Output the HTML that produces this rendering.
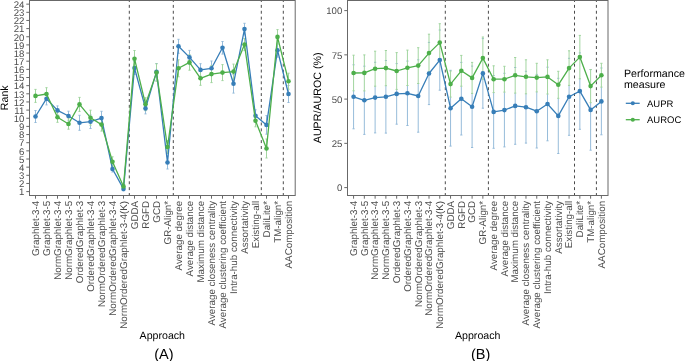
<!DOCTYPE html>
<html><head><meta charset="utf-8"><title>Figure</title>
<style>
html,body{margin:0;padding:0;background:#fff;}
body{width:685px;height:361px;overflow:hidden;font-family:"Liberation Sans", sans-serif;}
#fig{width:685px;height:361px;will-change:transform;}
svg{display:block;}
</style></head><body>
<div id="fig">
<svg width="685" height="361" viewBox="0 0 685 361" text-rendering="geometricPrecision" font-family='"Liberation Sans", sans-serif'>
<line x1="129.3" y1="196" x2="129.3" y2="0" stroke="#4A4A4A" stroke-width="1" stroke-dasharray="2.94 2.94"/>
<line x1="173.3" y1="196" x2="173.3" y2="0" stroke="#4A4A4A" stroke-width="1" stroke-dasharray="2.94 2.94"/>
<line x1="261.3" y1="196" x2="261.3" y2="0" stroke="#4A4A4A" stroke-width="1" stroke-dasharray="2.94 2.94"/>
<line x1="283.3" y1="196" x2="283.3" y2="0" stroke="#4A4A4A" stroke-width="1" stroke-dasharray="2.94 2.94"/>
<path d="M35.5 110.5V122.5M34.4 110.5H36.6M34.4 122.5H36.6M46.5 100.3V104.9M45.4 92.5H47.6M45.4 104.9H47.6M57.5 105.9V112.3M56.4 105.9H58.6M56.4 114.9H58.6M68.5 111.2V118.8M67.4 111.2H69.6M67.4 120.8H69.6M79.5 115.3V130.3M78.4 115.3H80.6M78.4 130.3H80.6M90.5 125.2V128.5M89.4 114.9H91.6M89.4 128.5H91.6M101.5 111.3V118.1M100.4 111.3H102.6M100.4 124.9H102.6M112.5 166.8V172M111.4 166H113.6M111.4 172H113.6M123.5 188.4V190.9M122.4 186.9H124.6M122.4 190.9H124.6M134.5 66.9V74.5M133.4 61.5H135.6M133.4 74.5H135.6M145.5 110.7V113.9M144.4 102.9H146.6M144.4 113.9H146.6M156.5 63.5V63.8M155.4 63.5H157.6M155.4 80.3H157.6M167.5 156V169M166.4 156H168.6M166.4 169H168.6M178.5 39.3V53.3M177.4 39.3H179.6M177.4 53.3H179.6M189.5 50.4V54.6M188.4 50.4H190.6M188.4 64.4H190.6M200.5 63.7V71.3M199.4 63.7H201.6M199.4 76.1H201.6M211.5 61V65.6M210.4 61H212.6M210.4 75.6H212.6M222.5 41.5V54.1M221.4 41.5H223.6M221.4 54.1H223.6M233.5 79.1V93.1M232.4 74.3H234.6M232.4 93.1H234.6M244.5 23.3V34.9M243.4 23.3H245.6M243.4 34.9H245.6M255.5 109.8V114.8M254.4 109.8H256.6M254.4 121.8H256.6M266.5 115.6V134.2M265.4 115.6H267.6M265.4 134.2H267.6M277.5 44.2V57.2M276.4 43.2H278.6M276.4 57.2H278.6M288.5 89.2V102.5M287.4 85.5H289.6M287.4 102.5H289.6" stroke="#91B8D8" stroke-width="0.95" fill="none"/>
<path d="M35.5 89.4V102.4M34.4 89.4H36.6M34.4 102.4H36.6M46.5 87.7V100.3M45.4 87.7H47.6M45.4 100.3H47.6M57.5 112.3V122.3M56.4 112.3H58.6M56.4 122.3H58.6M68.5 118.8V129.2M67.4 118.8H69.6M67.4 129.2H69.6M79.5 97.4V111.4M78.4 97.4H80.6M78.4 111.4H80.6M90.5 110.2V125.2M89.4 110.2H91.6M89.4 125.2H91.6M101.5 118.1V131.1M100.4 118.1H102.6M100.4 131.1H102.6M112.5 156.8V166.8M111.4 156.8H113.6M111.4 166.8H113.6M123.5 184.4V188.4M122.4 184.4H124.6M122.4 188.4H124.6M134.5 50.5V66.9M133.4 50.5H135.6M133.4 66.9H135.6M145.5 97.7V110.7M144.4 97.7H146.6M144.4 110.7H146.6M156.5 63.8V81.4M155.4 63.8H157.6M155.4 81.4H157.6M167.5 140.5V153.5M166.4 140.5H168.6M166.4 153.5H168.6M178.5 59.8V76.8M177.4 59.8H179.6M177.4 76.8H179.6M189.5 54.6V70.2M188.4 54.6H190.6M188.4 70.2H190.6M200.5 71.3V85.3M199.4 71.3H201.6M199.4 85.3H201.6M211.5 65.6V82.6M210.4 65.6H212.6M210.4 82.6H212.6M222.5 64.6V80.6M221.4 64.6H223.6M221.4 80.6H223.6M233.5 64.1V79.1M232.4 64.1H234.6M232.4 79.1H234.6M244.5 38.6V50.6M243.4 38.6H245.6M243.4 50.6H245.6M255.5 114.8V126.8M254.4 114.8H256.6M254.4 126.8H256.6M266.5 139V158M265.4 139H267.6M265.4 158H267.6M277.5 29.6V44.2M276.4 29.6H278.6M276.4 44.2H278.6M288.5 73.2V89.2M287.4 73.2H289.6M287.4 89.2H289.6" stroke="#9DD39B" stroke-width="0.95" fill="none"/>
<polyline points="35.5,116.5 46.5,98.7 57.5,110.4 68.5,116 79.5,122.8 90.5,121.7 101.5,118.1 112.5,169 123.5,188.9 134.5,68 145.5,108.4 156.5,71.9 167.5,162.5 178.5,46.3 189.5,57.4 200.5,69.9 211.5,68.3 222.5,47.8 233.5,83.7 244.5,29.1 255.5,115.8 266.5,124.9 277.5,50.2 288.5,94" stroke="#377EB8" stroke-width="1.3" fill="none" stroke-linejoin="round"/>
<circle cx="35.5" cy="116.5" r="2.3" fill="#377EB8"/>
<circle cx="46.5" cy="98.7" r="2.3" fill="#377EB8"/>
<circle cx="57.5" cy="110.4" r="2.3" fill="#377EB8"/>
<circle cx="68.5" cy="116" r="2.3" fill="#377EB8"/>
<circle cx="79.5" cy="122.8" r="2.3" fill="#377EB8"/>
<circle cx="90.5" cy="121.7" r="2.3" fill="#377EB8"/>
<circle cx="101.5" cy="118.1" r="2.3" fill="#377EB8"/>
<circle cx="112.5" cy="169" r="2.3" fill="#377EB8"/>
<circle cx="123.5" cy="188.9" r="2.3" fill="#377EB8"/>
<circle cx="134.5" cy="68" r="2.3" fill="#377EB8"/>
<circle cx="145.5" cy="108.4" r="2.3" fill="#377EB8"/>
<circle cx="156.5" cy="71.9" r="2.3" fill="#377EB8"/>
<circle cx="167.5" cy="162.5" r="2.3" fill="#377EB8"/>
<circle cx="178.5" cy="46.3" r="2.3" fill="#377EB8"/>
<circle cx="189.5" cy="57.4" r="2.3" fill="#377EB8"/>
<circle cx="200.5" cy="69.9" r="2.3" fill="#377EB8"/>
<circle cx="211.5" cy="68.3" r="2.3" fill="#377EB8"/>
<circle cx="222.5" cy="47.8" r="2.3" fill="#377EB8"/>
<circle cx="233.5" cy="83.7" r="2.3" fill="#377EB8"/>
<circle cx="244.5" cy="29.1" r="2.3" fill="#377EB8"/>
<circle cx="255.5" cy="115.8" r="2.3" fill="#377EB8"/>
<circle cx="266.5" cy="124.9" r="2.3" fill="#377EB8"/>
<circle cx="277.5" cy="50.2" r="2.3" fill="#377EB8"/>
<circle cx="288.5" cy="94" r="2.3" fill="#377EB8"/>
<polyline points="35.5,95.9 46.5,94 57.5,117.3 68.5,124 79.5,104.4 90.5,117.7 101.5,124.6 112.5,161.8 123.5,186.4 134.5,58.7 145.5,104.2 156.5,72.6 167.5,147 178.5,68.3 189.5,62.4 200.5,78.3 211.5,74.1 222.5,72.6 233.5,71.6 244.5,44.6 255.5,120.8 266.5,148.5 277.5,36.9 288.5,81.2" stroke="#4DAF4A" stroke-width="1.3" fill="none" stroke-linejoin="round"/>
<circle cx="35.5" cy="95.9" r="2.3" fill="#4DAF4A"/>
<circle cx="46.5" cy="94" r="2.3" fill="#4DAF4A"/>
<circle cx="57.5" cy="117.3" r="2.3" fill="#4DAF4A"/>
<circle cx="68.5" cy="124" r="2.3" fill="#4DAF4A"/>
<circle cx="79.5" cy="104.4" r="2.3" fill="#4DAF4A"/>
<circle cx="90.5" cy="117.7" r="2.3" fill="#4DAF4A"/>
<circle cx="101.5" cy="124.6" r="2.3" fill="#4DAF4A"/>
<circle cx="112.5" cy="161.8" r="2.3" fill="#4DAF4A"/>
<circle cx="123.5" cy="186.4" r="2.3" fill="#4DAF4A"/>
<circle cx="134.5" cy="58.7" r="2.3" fill="#4DAF4A"/>
<circle cx="145.5" cy="104.2" r="2.3" fill="#4DAF4A"/>
<circle cx="156.5" cy="72.6" r="2.3" fill="#4DAF4A"/>
<circle cx="167.5" cy="147" r="2.3" fill="#4DAF4A"/>
<circle cx="178.5" cy="68.3" r="2.3" fill="#4DAF4A"/>
<circle cx="189.5" cy="62.4" r="2.3" fill="#4DAF4A"/>
<circle cx="200.5" cy="78.3" r="2.3" fill="#4DAF4A"/>
<circle cx="211.5" cy="74.1" r="2.3" fill="#4DAF4A"/>
<circle cx="222.5" cy="72.6" r="2.3" fill="#4DAF4A"/>
<circle cx="233.5" cy="71.6" r="2.3" fill="#4DAF4A"/>
<circle cx="244.5" cy="44.6" r="2.3" fill="#4DAF4A"/>
<circle cx="255.5" cy="120.8" r="2.3" fill="#4DAF4A"/>
<circle cx="266.5" cy="148.5" r="2.3" fill="#4DAF4A"/>
<circle cx="277.5" cy="36.9" r="2.3" fill="#4DAF4A"/>
<circle cx="288.5" cy="81.2" r="2.3" fill="#4DAF4A"/>
<rect x="29.5" y="0.5" width="265.7" height="195" fill="none" stroke="#686868" stroke-width="1"/>
<path d="M26.3 191.6H29.5M26.3 183.45H29.5M26.3 175.3H29.5M26.3 167.15H29.5M26.3 159H29.5M26.3 150.85H29.5M26.3 142.7H29.5M26.3 134.55H29.5M26.3 126.4H29.5M26.3 118.25H29.5M26.3 110.1H29.5M26.3 101.95H29.5M26.3 93.8H29.5M26.3 85.65H29.5M26.3 77.5H29.5M26.3 69.35H29.5M26.3 61.2H29.5M26.3 53.05H29.5M26.3 44.9H29.5M26.3 36.75H29.5M26.3 28.6H29.5M26.3 20.45H29.5M26.3 12.3H29.5M26.3 4.15H29.5M35.5 195.5V198.7M46.5 195.5V198.7M57.5 195.5V198.7M68.5 195.5V198.7M79.5 195.5V198.7M90.5 195.5V198.7M101.5 195.5V198.7M112.5 195.5V198.7M123.5 195.5V198.7M134.5 195.5V198.7M145.5 195.5V198.7M156.5 195.5V198.7M167.5 195.5V198.7M178.5 195.5V198.7M189.5 195.5V198.7M200.5 195.5V198.7M211.5 195.5V198.7M222.5 195.5V198.7M233.5 195.5V198.7M244.5 195.5V198.7M255.5 195.5V198.7M266.5 195.5V198.7M277.5 195.5V198.7M288.5 195.5V198.7" stroke="#686868" stroke-width="1" fill="none"/>
<text x="24.3" y="195.35" text-anchor="end" font-size="9.6" fill="#4D4D4D">1</text>
<text x="24.3" y="187.2" text-anchor="end" font-size="9.6" fill="#4D4D4D">2</text>
<text x="24.3" y="179.05" text-anchor="end" font-size="9.6" fill="#4D4D4D">3</text>
<text x="24.3" y="170.9" text-anchor="end" font-size="9.6" fill="#4D4D4D">4</text>
<text x="24.3" y="162.75" text-anchor="end" font-size="9.6" fill="#4D4D4D">5</text>
<text x="24.3" y="154.6" text-anchor="end" font-size="9.6" fill="#4D4D4D">6</text>
<text x="24.3" y="146.45" text-anchor="end" font-size="9.6" fill="#4D4D4D">7</text>
<text x="24.3" y="138.3" text-anchor="end" font-size="9.6" fill="#4D4D4D">8</text>
<text x="24.3" y="130.15" text-anchor="end" font-size="9.6" fill="#4D4D4D">9</text>
<text x="24.3" y="122" text-anchor="end" font-size="9.6" fill="#4D4D4D">10</text>
<text x="24.3" y="113.85" text-anchor="end" font-size="9.6" fill="#4D4D4D">11</text>
<text x="24.3" y="105.7" text-anchor="end" font-size="9.6" fill="#4D4D4D">12</text>
<text x="24.3" y="97.55" text-anchor="end" font-size="9.6" fill="#4D4D4D">13</text>
<text x="24.3" y="89.4" text-anchor="end" font-size="9.6" fill="#4D4D4D">14</text>
<text x="24.3" y="81.25" text-anchor="end" font-size="9.6" fill="#4D4D4D">15</text>
<text x="24.3" y="73.1" text-anchor="end" font-size="9.6" fill="#4D4D4D">16</text>
<text x="24.3" y="64.95" text-anchor="end" font-size="9.6" fill="#4D4D4D">17</text>
<text x="24.3" y="56.8" text-anchor="end" font-size="9.6" fill="#4D4D4D">18</text>
<text x="24.3" y="48.65" text-anchor="end" font-size="9.6" fill="#4D4D4D">19</text>
<text x="24.3" y="40.5" text-anchor="end" font-size="9.6" fill="#4D4D4D">20</text>
<text x="24.3" y="32.35" text-anchor="end" font-size="9.6" fill="#4D4D4D">21</text>
<text x="24.3" y="24.2" text-anchor="end" font-size="9.6" fill="#4D4D4D">22</text>
<text x="24.3" y="16.05" text-anchor="end" font-size="9.6" fill="#4D4D4D">23</text>
<text x="24.3" y="7.9" text-anchor="end" font-size="9.6" fill="#4D4D4D">24</text>
<text transform="translate(38.8,200.9) rotate(-90)" text-anchor="end" font-size="9.8" fill="#4D4D4D">Graphlet-3-4</text>
<text transform="translate(49.8,200.9) rotate(-90)" text-anchor="end" font-size="9.8" fill="#4D4D4D">Graphlet-3-5</text>
<text transform="translate(60.8,200.9) rotate(-90)" text-anchor="end" font-size="9.8" fill="#4D4D4D">NormGraphlet-3-4</text>
<text transform="translate(71.8,200.9) rotate(-90)" text-anchor="end" font-size="9.8" fill="#4D4D4D">NormGraphlet-3-5</text>
<text transform="translate(82.8,200.9) rotate(-90)" text-anchor="end" font-size="9.8" fill="#4D4D4D">OrderedGraphlet-3</text>
<text transform="translate(93.8,200.9) rotate(-90)" text-anchor="end" font-size="9.8" fill="#4D4D4D">OrderedGraphlet-3-4</text>
<text transform="translate(104.8,200.9) rotate(-90)" text-anchor="end" font-size="9.8" fill="#4D4D4D">NormOrderedGraphlet-3</text>
<text transform="translate(115.8,200.9) rotate(-90)" text-anchor="end" font-size="9.8" fill="#4D4D4D">NormOrderedGraphlet-3-4</text>
<text transform="translate(126.8,200.9) rotate(-90)" text-anchor="end" font-size="9.8" fill="#4D4D4D">NormOrderedGraphlet-3-4(K)</text>
<text transform="translate(137.8,200.9) rotate(-90)" text-anchor="end" font-size="9.8" fill="#4D4D4D">GDDA</text>
<text transform="translate(148.8,200.9) rotate(-90)" text-anchor="end" font-size="9.8" fill="#4D4D4D">RGFD</text>
<text transform="translate(159.8,200.9) rotate(-90)" text-anchor="end" font-size="9.8" fill="#4D4D4D">GCD</text>
<text transform="translate(170.8,200.9) rotate(-90)" text-anchor="end" font-size="9.8" fill="#4D4D4D">GR-Align*</text>
<text transform="translate(181.8,200.9) rotate(-90)" text-anchor="end" font-size="9.8" fill="#4D4D4D">Average degree</text>
<text transform="translate(192.8,200.9) rotate(-90)" text-anchor="end" font-size="9.8" fill="#4D4D4D">Average distance</text>
<text transform="translate(203.8,200.9) rotate(-90)" text-anchor="end" font-size="9.8" fill="#4D4D4D">Maximum distance</text>
<text transform="translate(214.8,200.9) rotate(-90)" text-anchor="end" font-size="9.8" fill="#4D4D4D">Average closeness centrality</text>
<text transform="translate(225.8,200.9) rotate(-90)" text-anchor="end" font-size="9.8" fill="#4D4D4D">Average clustering coefficient</text>
<text transform="translate(236.8,200.9) rotate(-90)" text-anchor="end" font-size="9.8" fill="#4D4D4D">Intra-hub connectivity</text>
<text transform="translate(247.8,200.9) rotate(-90)" text-anchor="end" font-size="9.8" fill="#4D4D4D">Assortativity</text>
<text transform="translate(258.8,200.9) rotate(-90)" text-anchor="end" font-size="9.8" fill="#4D4D4D">Existing-all</text>
<text transform="translate(269.8,200.9) rotate(-90)" text-anchor="end" font-size="9.8" fill="#4D4D4D">DaliLite*</text>
<text transform="translate(280.8,200.9) rotate(-90)" text-anchor="end" font-size="9.8" fill="#4D4D4D">TM-align*</text>
<text transform="translate(291.8,200.9) rotate(-90)" text-anchor="end" font-size="9.8" fill="#4D4D4D">AAComposition</text>
<line x1="445.3" y1="196" x2="445.3" y2="0" stroke="#4A4A4A" stroke-width="1" stroke-dasharray="2.94 2.94"/>
<line x1="488.4" y1="196" x2="488.4" y2="0" stroke="#4A4A4A" stroke-width="1" stroke-dasharray="2.94 2.94"/>
<line x1="574.5" y1="196" x2="574.5" y2="0" stroke="#4A4A4A" stroke-width="1" stroke-dasharray="2.94 2.94"/>
<line x1="596.4" y1="196" x2="596.4" y2="0" stroke="#4A4A4A" stroke-width="1" stroke-dasharray="2.94 2.94"/>
<path d="M353.57 90.8V128.8M352.47 64.8H354.67M352.47 128.8H354.67M364.34 90.9V134.4M363.24 66.2H365.44M363.24 134.4H365.44M375.12 86.2V132.9M374.02 62.3H376.22M374.02 132.9H376.22M385.89 85.7V133.1M384.79 60.5H387M384.79 133.1H387M396.67 89.4V124.2M395.57 63.6H397.77M395.57 124.2H397.77M407.44 85.5V125.5M406.34 61.1H408.55M406.34 125.5H408.55M418.22 83.5V132.2M417.12 59.8H419.32M417.12 132.2H419.32M429 72V104.6M427.89 42.4H430.1M427.89 104.6H430.1M439.77 61.5V90.2M438.67 30H440.87M438.67 90.2H440.87M450.55 70.3V71.1M450.55 97.1V146.1M449.44 70.3H451.65M449.44 146.1H451.65M461.32 86.2V135M460.22 62.4H462.42M460.22 135H462.42M472.1 93.4V147.5M471 66.1H473.2M471 147.5H473.2M482.87 79.2V108.2M481.77 38.6H483.97M481.77 108.2H483.97M493.64 92.6V148.3M492.54 75.5H494.75M492.54 148.3H494.75M504.42 92.1V146.9M503.32 73.3H505.52M503.32 146.9H505.52M515.19 93.1V144.3M514.09 67.5H516.29M514.09 144.3H516.29M525.97 93.8V143.1M524.87 71.3H527.07M524.87 143.1H527.07M536.75 91.9V148M535.64 74.4H537.85M535.64 148H537.85M547.52 94V140.8M546.42 67.2H548.62M546.42 140.8H548.62M558.29 98.3V153.5M557.19 78.3H559.39M557.19 153.5H559.39M569.07 85.4V135.3M567.97 58.3H570.17M567.97 135.3H570.17M579.85 78.8V129.3M578.75 52.9H580.95M578.75 129.3H580.95M590.62 102.7V150.2M589.52 69.6H591.72M589.52 150.2H591.72M601.39 87.1V134.8M600.29 68H602.5M600.29 134.8H602.5" stroke="#91B8D8" stroke-width="0.95" fill="none"/>
<path d="M353.57 55.2V90.8M352.47 55.2H354.67M352.47 90.8H354.67M364.34 54.9V90.9M363.24 54.9H365.44M363.24 90.9H365.44M375.12 51.2V86.2M374.02 51.2H376.22M374.02 86.2H376.22M385.89 50.5V85.7M384.79 50.5H387M384.79 85.7H387M396.67 52.6V89.4M395.57 52.6H397.77M395.57 89.4H397.77M407.44 50.1V85.5M406.34 50.1H408.55M406.34 85.5H408.55M418.22 47.7V83.5M417.12 47.7H419.32M417.12 83.5H419.32M429 34.2V72M427.89 34.2H430.1M427.89 72H430.1M439.77 23.7V61.5M438.67 23.7H440.87M438.67 61.5H440.87M450.55 71.1V97.1M449.44 71.1H451.65M449.44 97.1H451.65M461.32 55.4V86.2M460.22 55.4H462.42M460.22 86.2H462.42M472.1 62.4V93.4M471 62.4H473.2M471 93.4H473.2M482.87 37V79.2M481.77 37H483.97M481.77 79.2H483.97M493.64 65.8V92.6M492.54 65.8H494.75M492.54 92.6H494.75M504.42 66.3V92.1M503.32 66.3H505.52M503.32 92.1H505.52M515.19 57.5V93.1M514.09 57.5H516.29M514.09 93.1H516.29M525.97 59.8V93.8M524.87 59.8H527.07M524.87 93.8H527.07M536.75 63.3V91.9M535.64 63.3H537.85M535.64 91.9H537.85M547.52 59.8V94M546.42 59.8H548.62M546.42 94H548.62M558.29 71.3V98.3M557.19 71.3H559.39M557.19 98.3H559.39M569.07 50.8V85.4M567.97 50.8H570.17M567.97 85.4H570.17M579.85 35.4V78.8M578.75 35.4H580.95M578.75 78.8H580.95M590.62 69.5V102.7M589.52 69.5H591.72M589.52 102.7H591.72M601.39 63.3V87.1M600.29 63.3H602.5M600.29 87.1H602.5" stroke="#9DD39B" stroke-width="0.95" fill="none"/>
<polyline points="353.57,96.8 364.34,100.3 375.12,97.6 385.89,96.8 396.67,93.9 407.44,93.3 418.22,96 429,73.5 439.77,60.1 450.55,108.2 461.32,98.7 472.1,106.8 482.87,73.4 493.64,111.9 504.42,110.1 515.19,105.9 525.97,107.2 536.75,111.2 547.52,104 558.29,115.9 569.07,96.8 579.85,91.1 590.62,109.9 601.39,101.4" stroke="#377EB8" stroke-width="1.3" fill="none" stroke-linejoin="round"/>
<circle cx="353.57" cy="96.8" r="2.3" fill="#377EB8"/>
<circle cx="364.34" cy="100.3" r="2.3" fill="#377EB8"/>
<circle cx="375.12" cy="97.6" r="2.3" fill="#377EB8"/>
<circle cx="385.89" cy="96.8" r="2.3" fill="#377EB8"/>
<circle cx="396.67" cy="93.9" r="2.3" fill="#377EB8"/>
<circle cx="407.44" cy="93.3" r="2.3" fill="#377EB8"/>
<circle cx="418.22" cy="96" r="2.3" fill="#377EB8"/>
<circle cx="429" cy="73.5" r="2.3" fill="#377EB8"/>
<circle cx="439.77" cy="60.1" r="2.3" fill="#377EB8"/>
<circle cx="450.55" cy="108.2" r="2.3" fill="#377EB8"/>
<circle cx="461.32" cy="98.7" r="2.3" fill="#377EB8"/>
<circle cx="472.1" cy="106.8" r="2.3" fill="#377EB8"/>
<circle cx="482.87" cy="73.4" r="2.3" fill="#377EB8"/>
<circle cx="493.64" cy="111.9" r="2.3" fill="#377EB8"/>
<circle cx="504.42" cy="110.1" r="2.3" fill="#377EB8"/>
<circle cx="515.19" cy="105.9" r="2.3" fill="#377EB8"/>
<circle cx="525.97" cy="107.2" r="2.3" fill="#377EB8"/>
<circle cx="536.75" cy="111.2" r="2.3" fill="#377EB8"/>
<circle cx="547.52" cy="104" r="2.3" fill="#377EB8"/>
<circle cx="558.29" cy="115.9" r="2.3" fill="#377EB8"/>
<circle cx="569.07" cy="96.8" r="2.3" fill="#377EB8"/>
<circle cx="579.85" cy="91.1" r="2.3" fill="#377EB8"/>
<circle cx="590.62" cy="109.9" r="2.3" fill="#377EB8"/>
<circle cx="601.39" cy="101.4" r="2.3" fill="#377EB8"/>
<polyline points="353.57,73 364.34,72.9 375.12,68.7 385.89,68.1 396.67,71 407.44,67.8 418.22,65.6 429,53.1 439.77,42.6 450.55,84.1 461.32,70.8 472.1,77.9 482.87,58.1 493.64,79.2 504.42,79.2 515.19,75.3 525.97,76.8 536.75,77.6 547.52,76.9 558.29,84.8 569.07,68.1 579.85,57.1 590.62,86.1 601.39,75.2" stroke="#4DAF4A" stroke-width="1.3" fill="none" stroke-linejoin="round"/>
<circle cx="353.57" cy="73" r="2.3" fill="#4DAF4A"/>
<circle cx="364.34" cy="72.9" r="2.3" fill="#4DAF4A"/>
<circle cx="375.12" cy="68.7" r="2.3" fill="#4DAF4A"/>
<circle cx="385.89" cy="68.1" r="2.3" fill="#4DAF4A"/>
<circle cx="396.67" cy="71" r="2.3" fill="#4DAF4A"/>
<circle cx="407.44" cy="67.8" r="2.3" fill="#4DAF4A"/>
<circle cx="418.22" cy="65.6" r="2.3" fill="#4DAF4A"/>
<circle cx="429" cy="53.1" r="2.3" fill="#4DAF4A"/>
<circle cx="439.77" cy="42.6" r="2.3" fill="#4DAF4A"/>
<circle cx="450.55" cy="84.1" r="2.3" fill="#4DAF4A"/>
<circle cx="461.32" cy="70.8" r="2.3" fill="#4DAF4A"/>
<circle cx="472.1" cy="77.9" r="2.3" fill="#4DAF4A"/>
<circle cx="482.87" cy="58.1" r="2.3" fill="#4DAF4A"/>
<circle cx="493.64" cy="79.2" r="2.3" fill="#4DAF4A"/>
<circle cx="504.42" cy="79.2" r="2.3" fill="#4DAF4A"/>
<circle cx="515.19" cy="75.3" r="2.3" fill="#4DAF4A"/>
<circle cx="525.97" cy="76.8" r="2.3" fill="#4DAF4A"/>
<circle cx="536.75" cy="77.6" r="2.3" fill="#4DAF4A"/>
<circle cx="547.52" cy="76.9" r="2.3" fill="#4DAF4A"/>
<circle cx="558.29" cy="84.8" r="2.3" fill="#4DAF4A"/>
<circle cx="569.07" cy="68.1" r="2.3" fill="#4DAF4A"/>
<circle cx="579.85" cy="57.1" r="2.3" fill="#4DAF4A"/>
<circle cx="590.62" cy="86.1" r="2.3" fill="#4DAF4A"/>
<circle cx="601.39" cy="75.2" r="2.3" fill="#4DAF4A"/>
<rect x="347.5" y="0.5" width="260.5" height="195" fill="none" stroke="#686868" stroke-width="1"/>
<path d="M344.3 187.6H347.5M344.3 143.35H347.5M344.3 99.1H347.5M344.3 54.85H347.5M344.3 10.6H347.5M353.57 195.5V198.7M364.34 195.5V198.7M375.12 195.5V198.7M385.89 195.5V198.7M396.67 195.5V198.7M407.44 195.5V198.7M418.22 195.5V198.7M429 195.5V198.7M439.77 195.5V198.7M450.55 195.5V198.7M461.32 195.5V198.7M472.1 195.5V198.7M482.87 195.5V198.7M493.64 195.5V198.7M504.42 195.5V198.7M515.19 195.5V198.7M525.97 195.5V198.7M536.75 195.5V198.7M547.52 195.5V198.7M558.29 195.5V198.7M569.07 195.5V198.7M579.85 195.5V198.7M590.62 195.5V198.7M601.39 195.5V198.7" stroke="#686868" stroke-width="1" fill="none"/>
<text x="342.3" y="191.35" text-anchor="end" font-size="9.6" fill="#4D4D4D">0</text>
<text x="342.3" y="147.1" text-anchor="end" font-size="9.6" fill="#4D4D4D">25</text>
<text x="342.3" y="102.85" text-anchor="end" font-size="9.6" fill="#4D4D4D">50</text>
<text x="342.3" y="58.6" text-anchor="end" font-size="9.6" fill="#4D4D4D">75</text>
<text x="342.3" y="14.35" text-anchor="end" font-size="9.6" fill="#4D4D4D">100</text>
<text transform="translate(356.87,200.9) rotate(-90)" text-anchor="end" font-size="9.8" fill="#4D4D4D">Graphlet-3-4</text>
<text transform="translate(367.64,200.9) rotate(-90)" text-anchor="end" font-size="9.8" fill="#4D4D4D">Graphlet-3-5</text>
<text transform="translate(378.42,200.9) rotate(-90)" text-anchor="end" font-size="9.8" fill="#4D4D4D">NormGraphlet-3-4</text>
<text transform="translate(389.19,200.9) rotate(-90)" text-anchor="end" font-size="9.8" fill="#4D4D4D">NormGraphlet-3-5</text>
<text transform="translate(399.97,200.9) rotate(-90)" text-anchor="end" font-size="9.8" fill="#4D4D4D">OrderedGraphlet-3</text>
<text transform="translate(410.75,200.9) rotate(-90)" text-anchor="end" font-size="9.8" fill="#4D4D4D">OrderedGraphlet-3-4</text>
<text transform="translate(421.52,200.9) rotate(-90)" text-anchor="end" font-size="9.8" fill="#4D4D4D">NormOrderedGraphlet-3</text>
<text transform="translate(432.3,200.9) rotate(-90)" text-anchor="end" font-size="9.8" fill="#4D4D4D">NormOrderedGraphlet-3-4</text>
<text transform="translate(443.07,200.9) rotate(-90)" text-anchor="end" font-size="9.8" fill="#4D4D4D">NormOrderedGraphlet-3-4(K)</text>
<text transform="translate(453.85,200.9) rotate(-90)" text-anchor="end" font-size="9.8" fill="#4D4D4D">GDDA</text>
<text transform="translate(464.62,200.9) rotate(-90)" text-anchor="end" font-size="9.8" fill="#4D4D4D">RGFD</text>
<text transform="translate(475.4,200.9) rotate(-90)" text-anchor="end" font-size="9.8" fill="#4D4D4D">GCD</text>
<text transform="translate(486.17,200.9) rotate(-90)" text-anchor="end" font-size="9.8" fill="#4D4D4D">GR-Align*</text>
<text transform="translate(496.94,200.9) rotate(-90)" text-anchor="end" font-size="9.8" fill="#4D4D4D">Average degree</text>
<text transform="translate(507.72,200.9) rotate(-90)" text-anchor="end" font-size="9.8" fill="#4D4D4D">Average distance</text>
<text transform="translate(518.49,200.9) rotate(-90)" text-anchor="end" font-size="9.8" fill="#4D4D4D">Maximum distance</text>
<text transform="translate(529.27,200.9) rotate(-90)" text-anchor="end" font-size="9.8" fill="#4D4D4D">Average closeness centrality</text>
<text transform="translate(540.04,200.9) rotate(-90)" text-anchor="end" font-size="9.8" fill="#4D4D4D">Average clustering coefficient</text>
<text transform="translate(550.82,200.9) rotate(-90)" text-anchor="end" font-size="9.8" fill="#4D4D4D">Intra-hub connectivity</text>
<text transform="translate(561.59,200.9) rotate(-90)" text-anchor="end" font-size="9.8" fill="#4D4D4D">Assortativity</text>
<text transform="translate(572.37,200.9) rotate(-90)" text-anchor="end" font-size="9.8" fill="#4D4D4D">Existing-all</text>
<text transform="translate(583.14,200.9) rotate(-90)" text-anchor="end" font-size="9.8" fill="#4D4D4D">DaliLite*</text>
<text transform="translate(593.92,200.9) rotate(-90)" text-anchor="end" font-size="9.8" fill="#4D4D4D">TM-align*</text>
<text transform="translate(604.69,200.9) rotate(-90)" text-anchor="end" font-size="9.8" fill="#4D4D4D">AAComposition</text>
<text transform="translate(7.8,97.8) rotate(-90)" text-anchor="middle" font-size="10.6" fill="#000">Rank</text>
<text transform="translate(321.2,97.8) rotate(-90)" text-anchor="middle" font-size="10.7" fill="#000">AUPR/AUROC (%)</text>
<text x="162.3" y="339.1" text-anchor="middle" font-size="10.6" fill="#000">Approach</text>
<text x="477.7" y="339.1" text-anchor="middle" font-size="10.6" fill="#000">Approach</text>
<text x="163.85" y="358.9" text-anchor="middle" font-size="14.5" fill="#000">(A)</text>
<text x="480.6" y="358.9" text-anchor="middle" font-size="14.5" fill="#000">(B)</text>
<text x="624.0" y="77.0" font-size="10.65" fill="#000">Performance</text>
<text x="624.0" y="87.8" font-size="10.65" fill="#000">measure</text>
<line x1="625.8" y1="103.3" x2="639.7" y2="103.3" stroke="#377EB8" stroke-width="1.3"/>
<circle cx="632.8" cy="103.3" r="2.05" fill="#377EB8"/>
<text x="647" y="106.6" font-size="9.5" fill="#000">AUPR</text>
<line x1="625.8" y1="119.7" x2="639.7" y2="119.7" stroke="#4DAF4A" stroke-width="1.3"/>
<circle cx="632.8" cy="119.7" r="2.05" fill="#4DAF4A"/>
<text x="647" y="123" font-size="9.5" fill="#000">AUROC</text>
</svg>
</div>
</body></html>
